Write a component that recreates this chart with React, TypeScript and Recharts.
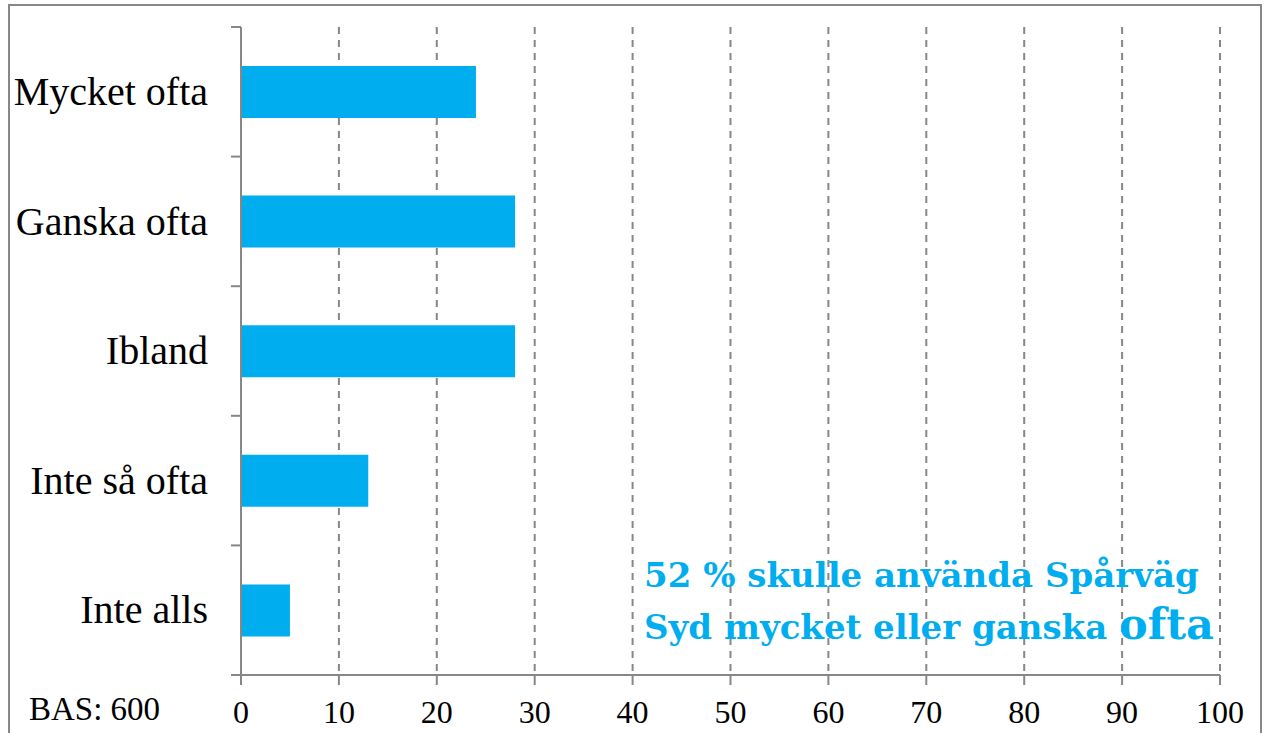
import React from "react";
import { BarChart, Bar, XAxis, YAxis, CartesianGrid } from "recharts";

const categories = ["Mycket ofta", "Ganska ofta", "Ibland", "Inte så ofta", "Inte alls"];
const values = [24, 28, 28, 13, 5];
const xTicks = [0, 10, 20, 30, 40, 50, 60, 70, 80, 90, 100];

const data = categories.map((name, i) => ({ name, value: values[i] }));

const GRAY = "#878787";
const BLUE = "#00AEEF";
const SERIF = "'Liberation Serif', 'Times New Roman', serif";

const CategoryTick = (props: any) => {
  const { x, y, payload, index, visibleTicksCount } = props;
  const half = payload && payload.offset > 0 ? payload.offset : 64.8;
  const axisX = x + 33;
  const isLast = index === (visibleTicksCount ?? categories.length) - 1;
  return (
    <g>
      <line x1={axisX - 10} x2={axisX} y1={y - half} y2={y - half} stroke={GRAY} strokeWidth={2} />
      {isLast && (
        <line x1={axisX - 10} x2={axisX} y1={y + half} y2={y + half} stroke={GRAY} strokeWidth={2} />
      )}
      <text x={x} y={y} dy="0.33em" textAnchor="end" fill="#000" fontSize={40} fontFamily={SERIF}>
        {payload.value}
      </text>
    </g>
  );
};

export default function App() {
  return (
    <div
      style={{
        position: "absolute",
        left: 8,
        top: 4,
        width: 1254,
        height: 740,
        border: `2px solid ${GRAY}`,
        boxSizing: "border-box",
        fontFamily: SERIF,
        background: "#fff",
      }}
    >
      <BarChart
        width={1250}
        height={725}
        data={data}
        layout="vertical"
        margin={{ top: 21, right: 40, bottom: 0, left: 0 }}
      >
        <CartesianGrid horizontal={false} vertical={true} stroke={GRAY} strokeWidth={2} strokeDasharray="7 6" />
        <XAxis
          type="number"
          domain={[0, 100]}
          ticks={xTicks}
          interval={0}
          height={56}
          tickSize={10}
          tickMargin={15}
          axisLine={{ stroke: GRAY, strokeWidth: 2 }}
          tickLine={{ stroke: GRAY, strokeWidth: 2 }}
          tick={{ fill: "#000", fontSize: 32, fontFamily: SERIF }}
        />
        <YAxis
          type="category"
          dataKey="name"
          width={231}
          tickSize={10}
          tickMargin={23}
          interval={0}
          axisLine={{ stroke: GRAY, strokeWidth: 2 }}
          tickLine={false}
          tick={<CategoryTick />}
        />
        <Bar dataKey="value" fill={BLUE} barSize={52} isAnimationActive={false} />
      </BarChart>
      <div
        style={{
          position: "absolute",
          left: 19,
          top: 687,
          fontSize: 33,
          fontFamily: SERIF,
          color: "#000",
          lineHeight: "33px",
          whiteSpace: "nowrap",
        }}
      >
        BAS: 600
      </div>
      <div
        style={{
          position: "absolute",
          left: 634,
          top: 545,
          color: BLUE,
          fontFamily: "'DejaVu Serif', serif",
          fontWeight: "bold",
          fontSize: 34,
          lineHeight: "49px",
          whiteSpace: "nowrap",
        }}
      >
        <div>52 % skulle använda Spårväg</div>
        <div>
          Syd mycket eller ganska <span style={{ fontSize: 43 }}>ofta</span>
        </div>
      </div>
    </div>
  );
}
